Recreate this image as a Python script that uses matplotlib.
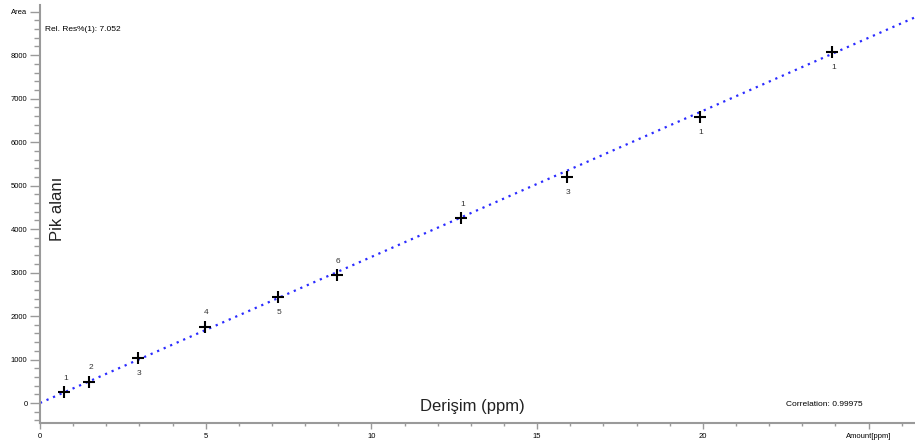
import matplotlib
matplotlib.use('Agg')
import matplotlib.pyplot as plt
import numpy as np
from matplotlib.ticker import MultipleLocator

plt.rcParams['font.family'] = ['Liberation Sans', 'DejaVu Sans']

# calibration levels (ppm) and measured peak areas
amount = [0.73, 1.48, 2.95, 4.97, 7.18, 8.95, 12.7, 15.9, 19.9, 23.9]
area = [246, 490, 1028, 1755, 2438, 2944, 4255, 5198, 6580, 8075]
level_labels = ['1', '2', '3', '4', '5', '6', '1', '3', '1', '1']
label_above = [True, True, False, True, False, True, True, False, False, False]

slope = 336.0
correlation = '0.99975'
rel_res = '7.052'

y_ticks = [0, 1000, 2000, 3000, 4000, 5000, 6000, 7000, 8000, 9000]
y_ticklabels = ['0', '1000', '2000', '3000', '4000', '5000', '6000', '7000', '8000', 'Area']
x_ticks = [0, 5, 10, 15, 20, 25]
x_ticklabels = ['0', '5', '10', '15', '20', 'Amount[ppm]']

fig = plt.figure(figsize=(9.15, 4.44), dpi=100)
ax = fig.add_axes([40 / 915, 21 / 444, 875 / 915, 418 / 444])

xfit = np.linspace(0, 26.4, 200)
ax.plot(xfit, slope * xfit, color='#2b2bff', linestyle=(0, (1, 2.2)), lw=1.6)
ax.plot(amount, area, '+', color='black', markersize=9, mew=1.5)

for xv, yv, lab, up in zip(amount, area, level_labels, label_above):
    ax.annotate(lab, (xv, yv), xytext=(1, 10 if up else -11), textcoords='offset points',
                ha='center', va='center', fontsize=6, color='#333333')

ax.set_xlim(0, 26.4)
ax.set_ylim(-460, 9154)

ax.set_xticks(x_ticks)
ax.set_xticklabels(x_ticklabels)
ax.set_yticks(y_ticks)
ax.set_yticklabels(y_ticklabels)
ax.xaxis.set_minor_locator(MultipleLocator(1))
ax.yaxis.set_minor_locator(MultipleLocator(200))

for side in ['top', 'right']:
    ax.spines[side].set_visible(False)
for side in ['left', 'bottom']:
    ax.spines[side].set_color('#9a9a9a')
    ax.spines[side].set_linewidth(1.5)

ax.tick_params(axis='y', which='major', length=7, width=1, color='#9a9a9a', labelsize=5.5, pad=2)
ax.tick_params(axis='y', which='minor', length=4, width=1, color='#9a9a9a')
ax.tick_params(axis='x', which='major', length=4, width=1, color='#9a9a9a', labelsize=5.5, pad=3)
ax.tick_params(axis='x', which='minor', length=2, width=1, color='#9a9a9a')

ax.text(0.15, 8580, 'Rel. Res%(1): ' + rel_res, fontsize=6, va='center', ha='left')
ax.text(22.5, -40, 'Correlation: ' + correlation, fontsize=6, va='center', ha='left')
ax.text(0.52, 4470, 'Pik alanı', rotation=90, fontsize=12, va='center', ha='center', color='#222222')
ax.text(13.05, -90, 'Derişim (ppm)', fontsize=12, va='center', ha='center', color='#222222')

fig.savefig('out.png', dpi=100)
